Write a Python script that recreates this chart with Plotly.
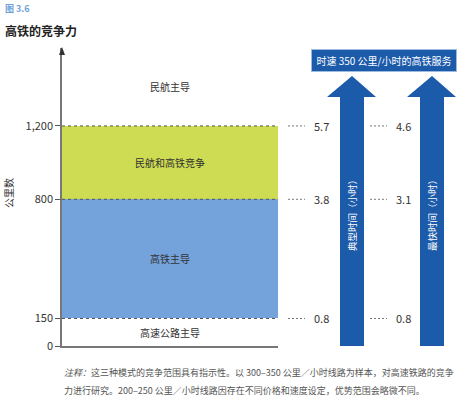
import plotly.graph_objects as go

# ── data ─────────────────────────────────────────────────────────────────────
bounds = [0, 150, 800, 1200]                     # km boundaries between modes
tick_text = ["0", "150", "800", "1,200"]
band_labels = ["高速公路主导", "高铁主导", "民航和高铁竞争", "民航主导"]
band_colors = ["rgba(0,0,0,0)", "#74a3dc", "#cddc52", "rgba(0,0,0,0)"]
typical_hours = [0.8, 3.8, 5.7]                  # at 150 / 800 / 1200 km
fastest_hours = [0.8, 3.1, 4.6]
arrow_labels = ["典型时间（小时）", "最快时间（小时）"]
header = "时速 350 公里/小时的高铁服务"
y_max = 1625

W, H = 471, 403
FONT = "Noto Sans CJK SC"
DARK_BLUE = "#1c5aaa"


def px(x):
    return x / W


def py(y):
    return 1 - y / H


def note(x, y, text, size, color, xanchor="center", **kw):
    # paper-positioned text; anchors set explicitly (auto anchors shift it)
    return dict(x=px(x), y=py(y), xref="paper", yref="paper", text=text,
                showarrow=False, xanchor=xanchor, yanchor="middle",
                font=dict(size=size, color=color, family=FONT), **kw)


top_vals = bounds[1:] + [y_max]

fig = go.Figure()
for lo, hi, col in zip(bounds, top_vals, band_colors):
    fig.add_trace(go.Bar(
        x=[0.5], y=[hi - lo], base=[lo], width=[1],
        marker=dict(color=col, line=dict(width=0)),
        hoverinfo="skip", showlegend=False,
    ))

shapes = []
annotations = []

# band labels at midpoints
for lo, hi, lab in zip(bounds, top_vals, band_labels):
    annotations.append(dict(
        x=0.5, y=(lo + hi) / 2, xref="x", yref="y", text=lab,
        showarrow=False, font=dict(size=10, color="#333", family=FONT),
    ))

# dashed boundaries across the chart
for b in bounds[1:]:
    shapes.append(dict(type="line", xref="x", yref="y", x0=0, x1=1, y0=b, y1=b,
                       line=dict(color="#555", width=1, dash="3px,3px")))

# short dashes + hour values at right
for vals, x0 in zip([typical_hours, fastest_hours], [288, 370]):
    for b, v in zip(bounds[1:], vals):
        shapes.append(dict(type="line", xref="paper", yref="y",
                           x0=px(x0), x1=px(x0 + 17), y0=b, y1=b,
                           line=dict(color="#777", width=1, dash="2px,2px")))
        annotations.append(dict(
            x=px(x0 + 24), y=b, xref="paper", yref="y", text=f"{v:.1f}",
            showarrow=False, xanchor="left", yanchor="middle",
            font=dict(size=11, color="#333", family=FONT),
        ))

# big blue arrows
for cx, lab in zip([352, 432], arrow_labels):
    path = (f"M {px(cx - 12)} {py(346)} L {px(cx - 12)} {py(97)} "
            f"L {px(cx - 25)} {py(97)} L {px(cx)} {py(76)} "
            f"L {px(cx + 24)} {py(97)} L {px(cx + 12)} {py(97)} "
            f"L {px(cx + 12)} {py(346)} Z")
    shapes.append(dict(type="path", xref="paper", yref="paper", path=path,
                       fillcolor=DARK_BLUE, line=dict(width=0)))
    annotations.append(note(cx, 213, lab, 9.5, "white", textangle=-90))

# header box (annotation with its own background)
annotations.append(note(384, 60.5, header, 10, "white",
                        bgcolor=DARK_BLUE, bordercolor="#9dbbe0",
                        borderwidth=1, borderpad=3, width=138, height=15))

# y-axis arrow head
shapes.append(dict(type="path", xref="paper", yref="paper",
                   path=f"M {px(59)} {py(55)} L {px(62)} {py(47)} L {px(65)} {py(55)} Z",
                   fillcolor="#333", line=dict(width=0)))

# titles and notes
annotations += [
    note(3, 9, "<b>图 3.6</b>", 9, "#6f9fd8", xanchor="left"),
    note(3, 30, "<b>高铁的竞争力</b>", 12, "#222", xanchor="left"),
    note(8, 193, "公里数", 10, "#333", textangle=-90),
    note(62, 372, "<i>注释：</i>这三种模式的竞争范围具有指示性。以 300–350 公里／小时线路为样本，对高速铁路的竞争",
         9, "#555", xanchor="left"),
    note(62, 390, "力进行研究。200–250 公里／小时线路因存在不同价格和速度设定，优势范围会略微不同。",
         9, "#555", xanchor="left"),
]

fig.update_layout(
    width=W, height=H,
    margin=dict(l=0, r=0, t=0, b=0),
    paper_bgcolor="white", plot_bgcolor="white",
    barmode="overlay", bargap=0,
    shapes=shapes, annotations=annotations,
    font=dict(family=FONT, color="#333"),
    xaxis=dict(domain=[px(62), px(278)], range=[0, 1], showticklabels=False,
               showgrid=False, zeroline=False, showline=True, automargin=False,
               linecolor="#777", linewidth=1.5, ticks=""),
    yaxis=dict(domain=[py(346), py(48)], range=[0, y_max], automargin=False,
               tickvals=bounds, ticktext=tick_text, ticks="outside",
               ticklen=5, tickcolor="#555", showgrid=False, zeroline=False,
               showline=True, linecolor="#777", linewidth=1.5,
               tickfont=dict(size=11, color="#333", family=FONT)),
)

# page body has a default 8px margin; drop it so the figure fills the window
fig.write_html("out.html", config={"displayModeBar": False},
               post_script="document.body.style.margin='0';")
